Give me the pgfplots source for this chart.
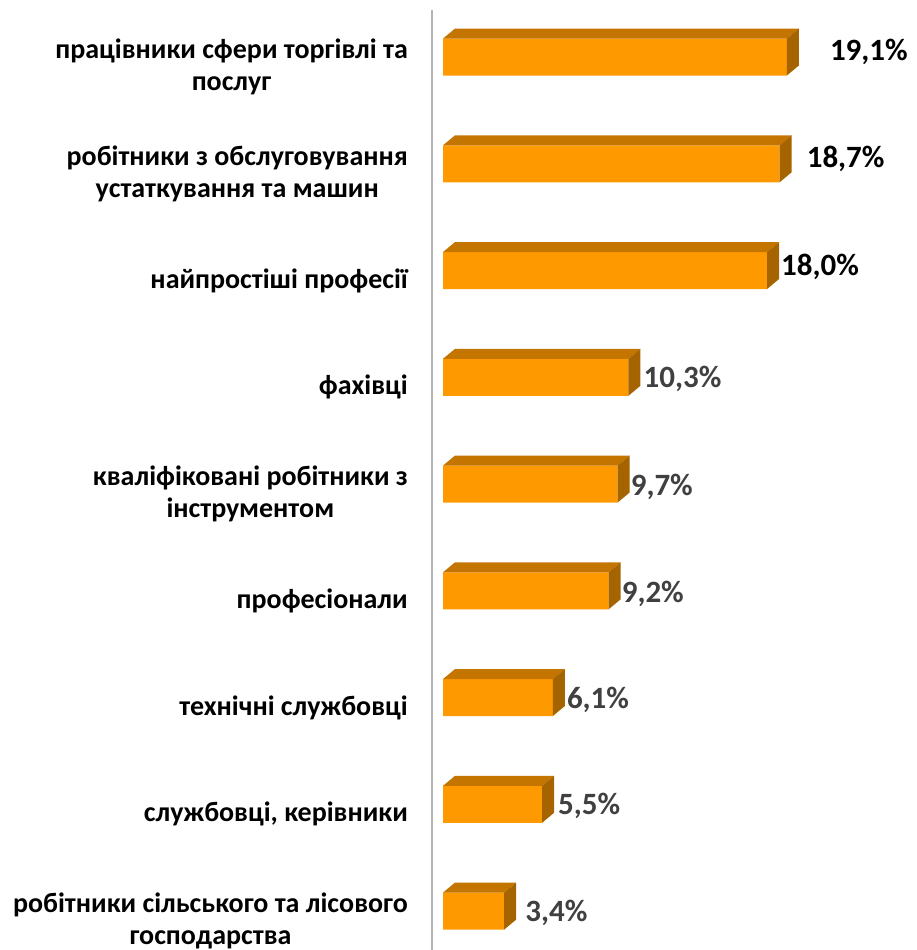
\documentclass[border=0pt]{standalone}
\usepackage{pgfplots}
\pgfplotsset{compat=1.18}
\usepackage{pgfplotstable}
\usepackage{fontspec}
\setmainfont{Carlito}
\definecolor{barfront}{RGB}{255,153,0}
\definecolor{bartop}{RGB}{196,117,0}
\definecolor{barside}{RGB}{166,100,0}
\definecolor{axgray}{RGB}{180,180,180}

\pgfplotstableread{
idx val off dy gp
0 19.1 43 5 100
1 18.7 27 5 100
2 18.0 14 4 100
3 10.3 15 -2 75
4 9.7 13 -3 75
5 9.2 13 -3 75
6 6.1 14 -2 75
7 5.5 16 -2 75
8 3.4 21 -2 75
}\datatable

\pgfdeclareplotmark{bar3d}{%
  \pgfmathsetmacro\L{\rawv*18}%
  \pgfsetfillcolor{bartop}%
  \pgfpathmoveto{\pgfqpoint{-\L pt}{18.5pt}}%
  \pgfpathlineto{\pgfqpoint{0pt}{18.5pt}}%
  \pgfpathlineto{\pgfqpoint{12pt}{28.5pt}}%
  \pgfmathsetmacro\Lb{12-\L}%
  \pgfpathlineto{\pgfqpoint{\Lb pt}{28.5pt}}%
  \pgfpathclose
  \pgfusepath{fill}%
  \pgfsetfillcolor{barside}%
  \pgfpathmoveto{\pgfqpoint{0pt}{18.5pt}}%
  \pgfpathlineto{\pgfqpoint{12pt}{28.5pt}}%
  \pgfpathlineto{\pgfqpoint{12pt}{-8.5pt}}%
  \pgfpathlineto{\pgfqpoint{0pt}{-18.5pt}}%
  \pgfpathclose
  \pgfusepath{fill}%
}

\begin{document}
\begin{tikzpicture}
\path[use as bounding box] (0,0) rectangle (916pt,-950pt);
\begin{axis}[
  at={(432pt,-950pt)}, anchor=south west,
  x=18pt, y=106.75pt, y dir=reverse,
  xmin=-0.6111, xmax=26.278, ymin=-0.4403, ymax=8.365,
  axis x line=none,
  axis y line*=left,
  y axis line style={draw=axgray, line width=2pt},
  clip=false,
  ytick={0,...,8},
  major tick length=0pt,
  yticklabels={{працівники сфери торгівлі та\\послуг},
               {робітники з обслуговування\\устаткування та машин},
               {найпростіші професії},
               {фахівці},
               {кваліфіковані робітники з\\інструментом},
               {професіонали},
               {технічні службовці},
               {службовці, керівники},
               {робітники сільського та лісового\\господарства}},
  yticklabel style={font=\bfseries\fontsize{28}{32.5}\selectfont, align=center, inner sep=0pt, anchor=east, xshift=-24pt, yshift=-10pt},
]
\addplot[xbar, bar width=37pt, fill=barfront, draw=none,
  point meta=x,
  visualization depends on={\thisrow{off} \as \off},
  visualization depends on={\thisrow{dy} \as \dy},
  visualization depends on={\thisrow{gp} \as \gp},
  nodes near coords={\pgfmathprintnumber[fixed, fixed zerofill, precision=1, use comma, assume math mode=true]{\pgfplotspointmeta}\%},
  every node near coord/.append style={anchor=west, inner sep=0pt, xshift=\off pt, yshift=\dy pt, text=black!\gp!white, font=\bfseries\fontsize{31}{33}\selectfont},
] table[x=val, y=idx] {\datatable};
\addplot[scatter, only marks, mark=bar3d, point meta=y,
  visualization depends on={\thisrow{val} \as \rawv},
] table[x=val, y=idx] {\datatable};
\end{axis}
\end{tikzpicture}
\end{document}
